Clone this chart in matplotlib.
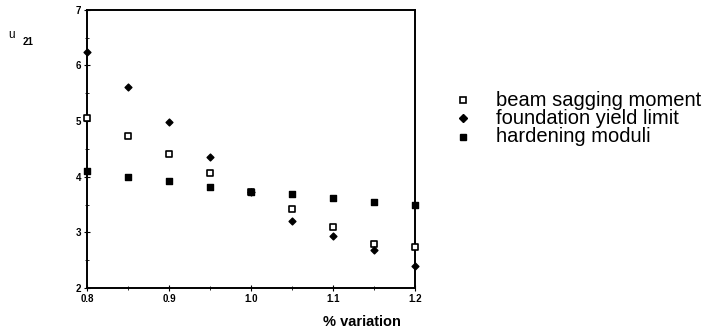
import numpy as np
import matplotlib
matplotlib.use("Agg")
import matplotlib.pyplot as plt
from matplotlib.ticker import MultipleLocator, FormatStrFormatter

# Data
variation = [0.8, 0.85, 0.9, 0.95, 1.0, 1.05, 1.1, 1.15, 1.2]
beam_sagging = [5.05, 4.73, 4.40, 4.06, 3.73, 3.42, 3.09, 2.79, 2.73]
foundation_yield = [6.24, 5.61, 4.98, 4.36, 3.73, 3.20, 2.94, 2.68, 2.40]
hardening = [4.10, 4.00, 3.92, 3.82, 3.73, 3.69, 3.61, 3.55, 3.50]

labels = ["beam sagging moment", "foundation yield limit", "hardening moduli"]

plt.rcParams["font.family"] = ["Liberation Sans", "DejaVu Sans"]

fig = plt.figure(figsize=(7.19, 3.28), dpi=100)
ax = fig.add_axes([0.121, 0.122, 0.456, 0.848])

ax.scatter(variation, beam_sagging, marker="s", s=14, facecolor="white",
           edgecolor="black", linewidth=1.2, clip_on=False, zorder=3)
ax.scatter(variation, foundation_yield, marker="D", s=12, color="black",
           clip_on=False, zorder=3)
ax.scatter(variation, hardening, marker="s", s=14, color="black",
           clip_on=False, zorder=3)

ax.set_xlim(0.8, 1.2)
ax.set_ylim(2, 7)
ax.xaxis.set_major_locator(MultipleLocator(0.1))
ax.xaxis.set_minor_locator(MultipleLocator(0.05))
ax.yaxis.set_major_locator(MultipleLocator(1))
ax.yaxis.set_minor_locator(MultipleLocator(0.5))
ax.xaxis.set_major_formatter(FormatStrFormatter("%.1f"))
ax.tick_params(which="major", direction="inout", length=4, width=0.8,
               labelsize=7, pad=2)
ax.tick_params(which="minor", direction="inout", length=3, width=0.6)
for lab in ax.get_xticklabels() + ax.get_yticklabels():
    lab.set_fontweight("bold")
for sp in ax.spines.values():
    sp.set_linewidth(1.4)

fig.text(0.012, 0.884, "u", fontsize=8.5)
fig.text(0.031, 0.863, "21", fontsize=7, fontweight="bold")
fig.text(0.449, 0.006, "% variation", fontsize=10.5, fontweight="bold")

# legend drawn as markers + text in figure coordinates
leg_y = [0.695, 0.64, 0.583]
leg_style = [dict(marker="s", mfc="white", mec="black", mew=1.2, ms=4.5),
             dict(marker="D", mfc="black", mec="black", ms=4.5),
             dict(marker="s", mfc="black", mec="black", ms=5)]
for yy, lab, st in zip(leg_y, labels, leg_style):
    fig.add_artist(plt.Line2D([0.644], [yy], transform=fig.transFigure,
                              linestyle="none", **st))
    fig.text(0.69, yy, lab, fontsize=14.5, va="center")

fig.savefig("out.png", dpi=100)
